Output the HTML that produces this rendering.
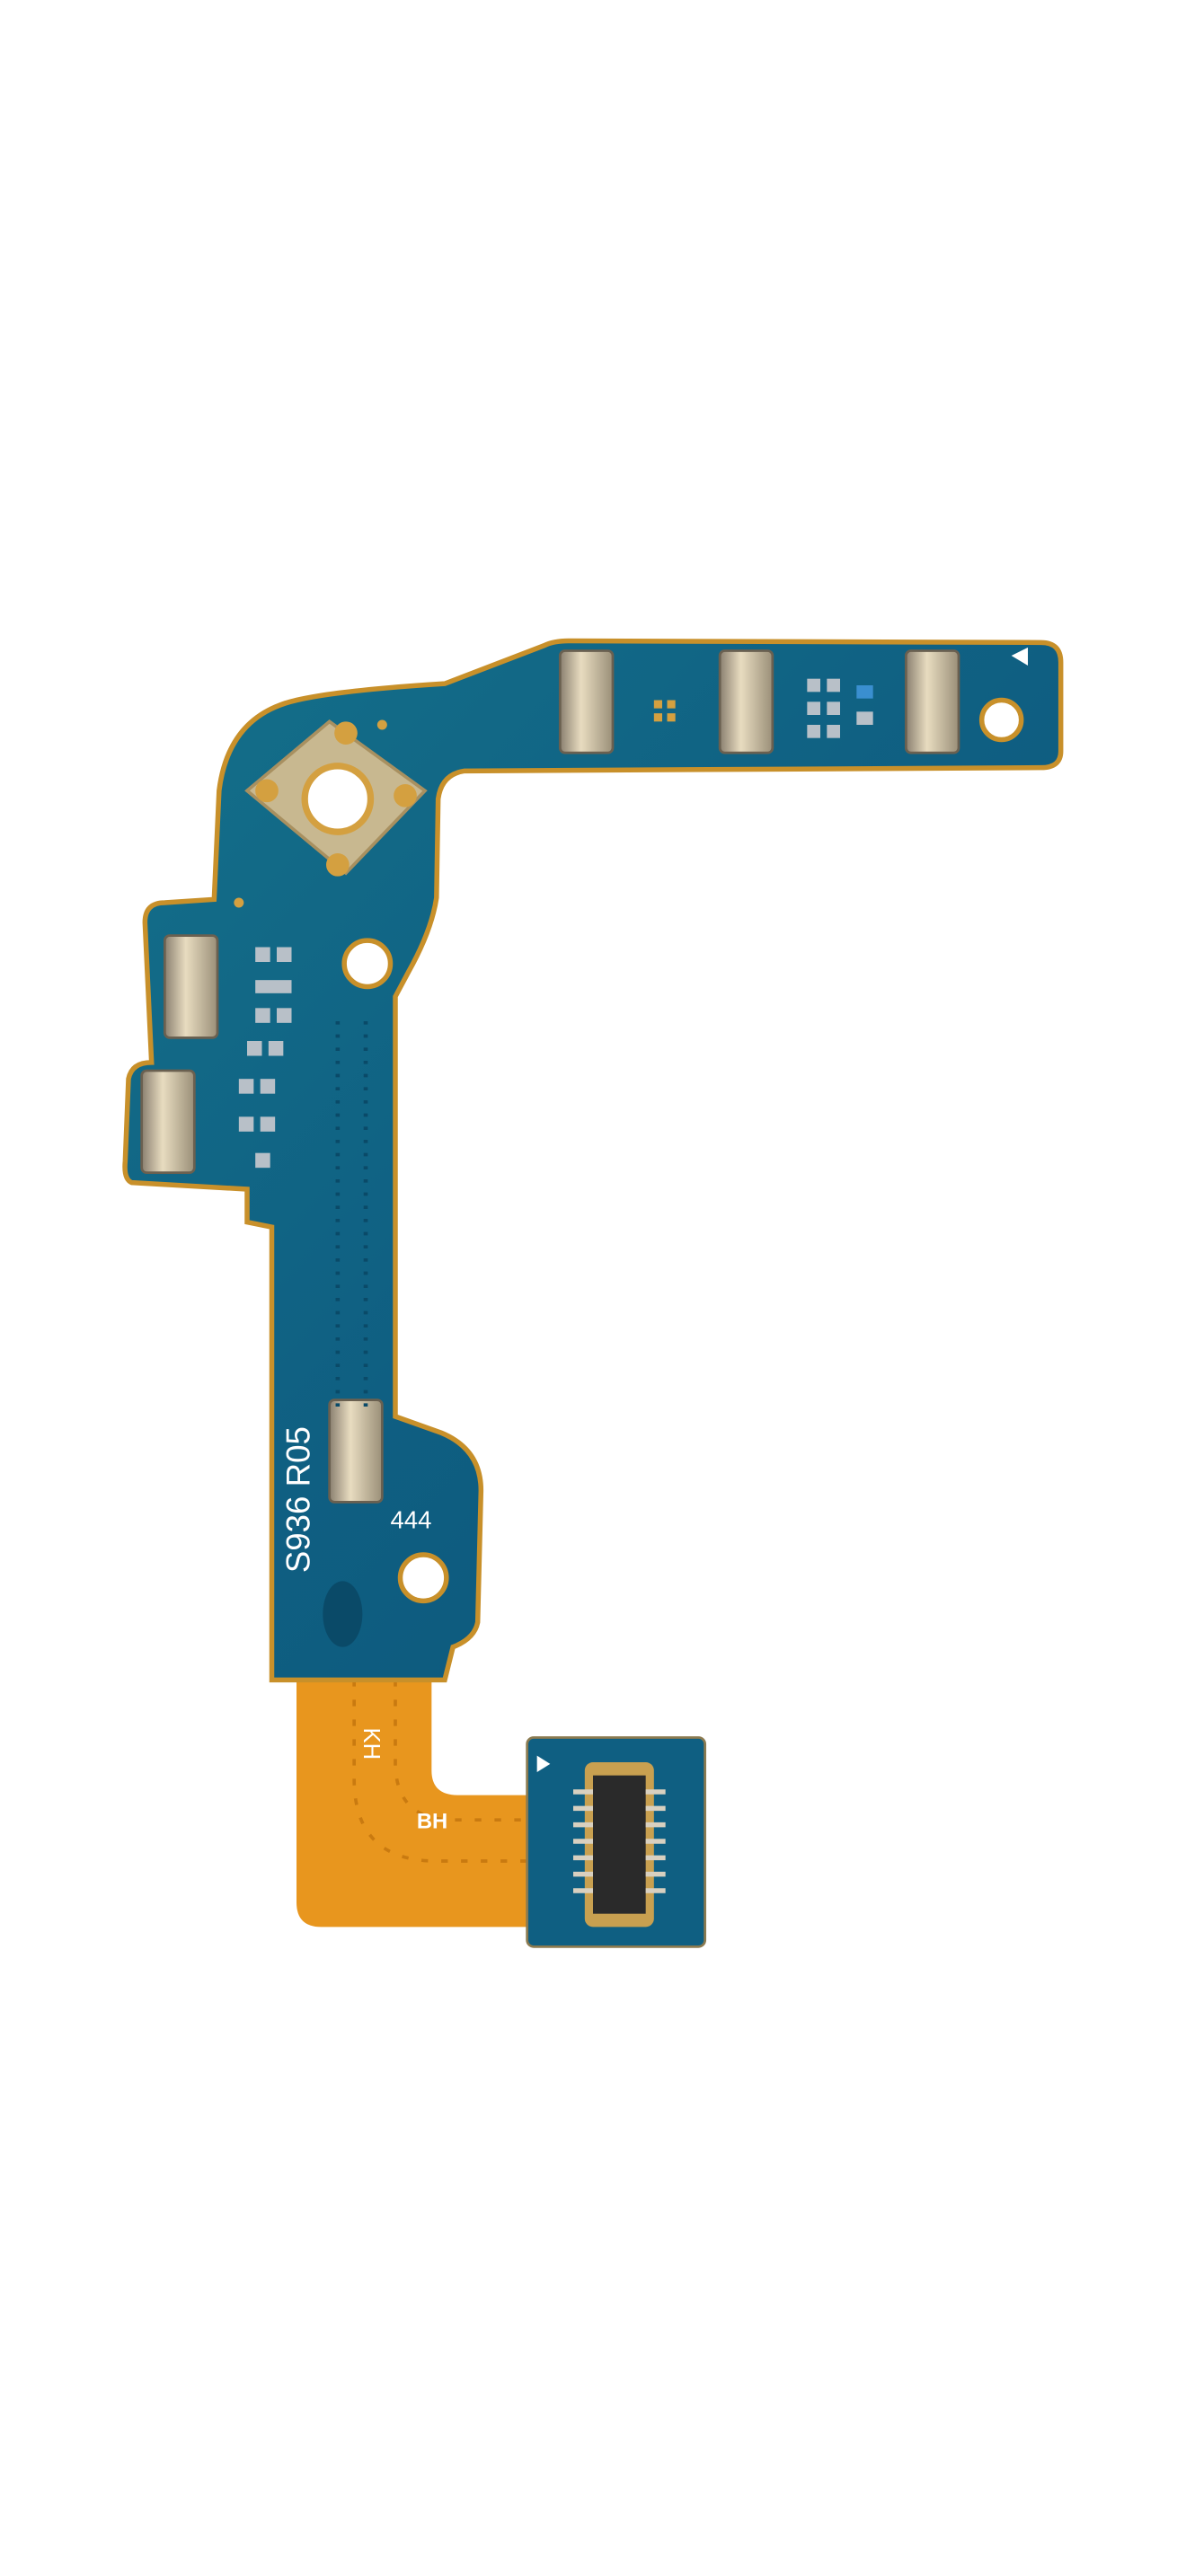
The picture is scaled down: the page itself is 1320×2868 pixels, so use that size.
<!DOCTYPE html>
<html><head><style>html,body{margin:0;padding:0;background:#fff}svg{display:block}</style></head>
<body>
<svg width="1320" height="2868" viewBox="0 0 720 1564" xmlns="http://www.w3.org/2000/svg">
<defs>
<linearGradient id="b" x1="0" y1="0" x2="1" y2="1"><stop offset="0" stop-color="#14708a"/><stop offset="0.5" stop-color="#0f5f82"/><stop offset="1" stop-color="#0c5478"/></linearGradient>
<linearGradient id="pad" x1="0" y1="0" x2="1" y2="0"><stop offset="0" stop-color="#8a8070"/><stop offset="0.4" stop-color="#e8dcc0"/><stop offset="1" stop-color="#9a8f78"/></linearGradient>
</defs>
<!-- orange flex -->
<path d="M180 1015 L262 1015 L262 1075 Q262 1090 278 1090 L330 1090 L330 1170 L195 1170 Q180 1170 180 1155 Z" fill="#e8961e"/>
<path d="M215 1020 L215 1080 Q215 1130 265 1130 L320 1130" fill="none" stroke="#c97a10" stroke-width="2" stroke-dasharray="4 8"/>
<path d="M240 1020 L240 1070 Q240 1105 275 1105 L320 1105" fill="none" stroke="#c97a10" stroke-width="2" stroke-dasharray="4 8"/>
<text x="222" y="1062" font-family="Liberation Sans, sans-serif" font-size="14" fill="#fff" transform="rotate(90 228 1055)">KH</text>
<text x="253" y="1110" font-family="Liberation Sans, sans-serif" font-size="13" fill="#fff" font-weight="bold">BH</text>
<!-- blue main board -->
<path d="M165 1020 L165 745 L150 742 L150 722 L80 718 Q75 716 76 705 L78 655 Q80 645 92 645 L88 560 Q88 548 100 548 L130 546 L133 480 Q138 440 170 428 Q190 420 270 415 L330 392 Q336 389 345 389 L632 390 Q644 390 644 402 L644 456 Q644 466 632 466 L282 468 Q268 470 266 485 L265 545 Q262 565 248 590 L240 605 L240 860 L268 870 Q292 880 292 905 L290 985 Q288 995 275 1000 L270 1020 Z" fill="url(#b)" stroke="#c8902a" stroke-width="3"/>
<!-- holes -->
<circle cx="223" cy="585" r="14" fill="#fff" stroke="#c8902a" stroke-width="3"/>
<circle cx="257" cy="958" r="14" fill="#fff" stroke="#c8902a" stroke-width="3"/>
<circle cx="608" cy="437" r="12" fill="#fff" stroke="#c8902a" stroke-width="3"/>
<!-- connector plate -->
<polygon points="150,480 200,438 258,480 210,530" fill="#c8b890" stroke="#a89060" stroke-width="2"/>
<circle cx="205" cy="485" r="20" fill="#fff" stroke="#d4a040" stroke-width="4"/>
<circle cx="210" cy="445" r="7" fill="#d4a040"/><circle cx="162" cy="480" r="7" fill="#d4a040"/><circle cx="246" cy="483" r="7" fill="#d4a040"/><circle cx="205" cy="525" r="7" fill="#d4a040"/>
<circle cx="232" cy="440" r="3" fill="#d4a040"/><circle cx="145" cy="548" r="3" fill="#d4a040"/>
<!-- spring pads -->
<g fill="url(#pad)" stroke="#6a6050" stroke-width="1.5">
<rect x="340" y="395" width="32" height="62" rx="3"/>
<rect x="437" y="395" width="32" height="62" rx="3"/>
<rect x="550" y="395" width="32" height="62" rx="3"/>
<rect x="100" y="568" width="32" height="62" rx="3"/>
<rect x="86" y="650" width="32" height="62" rx="3"/>
<rect x="200" y="850" width="32" height="62" rx="3"/>
</g>
<!-- small components -->
<g fill="#b8c0c8">
<rect x="490" y="412" width="8" height="8"/><rect x="502" y="412" width="8" height="8"/>
<rect x="490" y="426" width="8" height="8"/><rect x="502" y="426" width="8" height="8"/>
<rect x="490" y="440" width="8" height="8"/><rect x="502" y="440" width="8" height="8"/>
<rect x="520" y="416" width="10" height="8" fill="#3a8fd0"/><rect x="520" y="432" width="10" height="8"/>
<rect x="155" y="575" width="9" height="9"/><rect x="168" y="575" width="9" height="9"/>
<rect x="155" y="595" width="22" height="8"/>
<rect x="155" y="612" width="9" height="9"/><rect x="168" y="612" width="9" height="9"/>
<rect x="150" y="632" width="9" height="9"/><rect x="163" y="632" width="9" height="9"/>
<rect x="145" y="655" width="9" height="9"/><rect x="158" y="655" width="9" height="9"/>
<rect x="145" y="678" width="9" height="9"/><rect x="158" y="678" width="9" height="9"/>
<rect x="155" y="700" width="9" height="9"/>
</g>
<g fill="#d4a040"><rect x="397" y="425" width="5" height="5"/><rect x="405" y="425" width="5" height="5"/><rect x="397" y="433" width="5" height="5"/><rect x="405" y="433" width="5" height="5"/></g>
<polygon points="614,398 624,393 624,404" fill="#fff"/>
<!-- dot vias -->
<path d="M205 620 L205 860 M222 620 L222 860" stroke="#0a4a68" stroke-width="2.5" stroke-dasharray="2 6"/>
<text x="188" y="955" font-family="Liberation Sans, sans-serif" font-size="20" fill="#fff" transform="rotate(-90 188 955)">S936 R05</text>
<text x="237" y="928" font-family="Liberation Sans, sans-serif" font-size="15" fill="#fff">444</text>
<ellipse cx="208" cy="980" rx="12" ry="20" fill="#0a4a68"/>
<!-- connector board -->
<rect x="320" y="1055" width="108" height="127" rx="4" fill="#0f5f82" stroke="#8a7a50" stroke-width="1.5"/>
<polygon points="326,1066 334,1071 326,1076" fill="#fff"/>
<rect x="355" y="1070" width="42" height="100" rx="5" fill="#c8a050"/>
<rect x="360" y="1078" width="32" height="84" fill="#2a2a2a"/>
<g stroke="#d8d0c0" stroke-width="3">
<line x1="348" y1="1088" x2="360" y2="1088"/><line x1="348" y1="1098" x2="360" y2="1098"/><line x1="348" y1="1108" x2="360" y2="1108"/><line x1="348" y1="1118" x2="360" y2="1118"/><line x1="348" y1="1128" x2="360" y2="1128"/><line x1="348" y1="1138" x2="360" y2="1138"/><line x1="348" y1="1148" x2="360" y2="1148"/>
<line x1="392" y1="1088" x2="404" y2="1088"/><line x1="392" y1="1098" x2="404" y2="1098"/><line x1="392" y1="1108" x2="404" y2="1108"/><line x1="392" y1="1118" x2="404" y2="1118"/><line x1="392" y1="1128" x2="404" y2="1128"/><line x1="392" y1="1138" x2="404" y2="1138"/><line x1="392" y1="1148" x2="404" y2="1148"/>
</g>
</svg>
</body></html>
